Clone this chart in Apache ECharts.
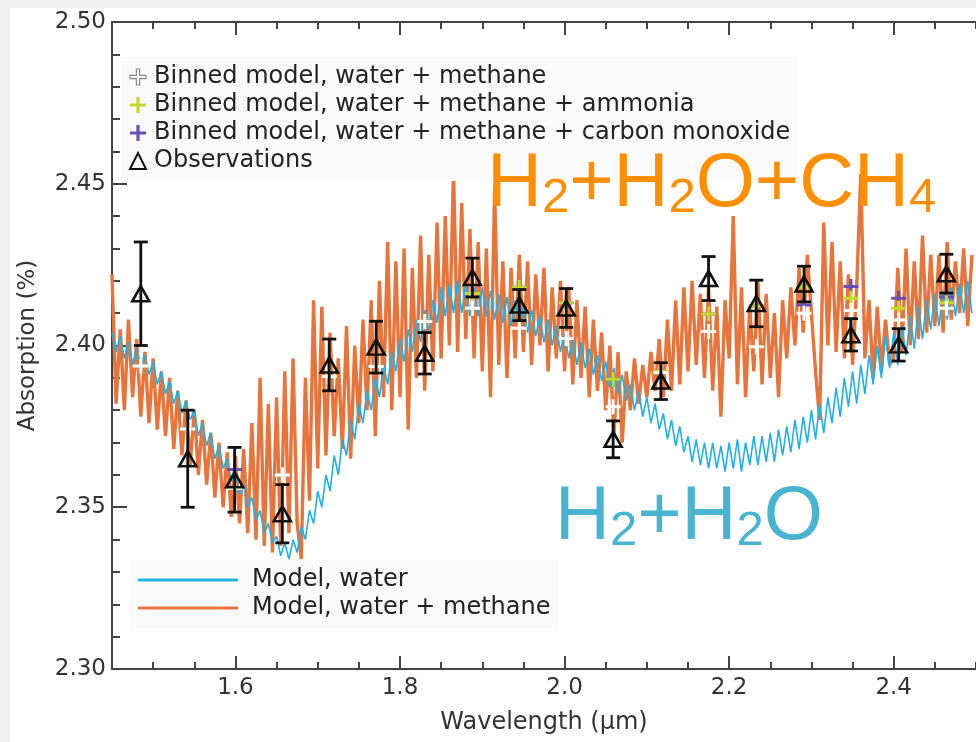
<!DOCTYPE html>
<html>
<head>
<meta charset="utf-8">
<script src="https://cdn.jsdelivr.net/npm/echarts@6/dist/echarts.min.js"></script>
<style>
html,body{margin:0;padding:0;background:#f0f0f0;}
#main{width:976px;height:742px;}
</style>
</head>
<body>
<div id="main"></div>
<script>
// spectrum sampled every 0.005 um from 1.45 um
var spectrumStart = 1.45;
var spectrumStep = 0.005;

// model, water (blue)
var waterModel = [
	2.404,2.398,2.403,2.396,2.401,2.394,2.399,2.393,2.397,2.391,
	2.395,2.388,2.392,2.385,2.389,2.382,2.386,2.379,2.383,2.377,
	2.380,2.372,2.376,2.369,2.373,2.365,2.369,2.362,2.365,2.358,
	2.361,2.354,2.357,2.350,2.353,2.346,2.349,2.342,2.345,2.339,
	2.341,2.335,2.339,2.334,2.340,2.336,2.344,2.340,2.349,2.345,
	2.355,2.350,2.360,2.355,2.366,2.360,2.371,2.366,2.377,2.371,
	2.382,2.376,2.386,2.380,2.390,2.384,2.394,2.388,2.398,2.392,
	2.402,2.395,2.405,2.398,2.408,2.401,2.411,2.404,2.414,2.407,
	2.418,2.409,2.419,2.410,2.420,2.410,2.419,2.409,2.418,2.409,
	2.418,2.409,2.417,2.408,2.416,2.407,2.415,2.406,2.414,2.405,
	2.412,2.404,2.411,2.403,2.409,2.401,2.408,2.400,2.406,2.398,
	2.404,2.396,2.402,2.394,2.401,2.393,2.399,2.391,2.397,2.389,
	2.395,2.387,2.393,2.385,2.391,2.383,2.388,2.380,2.386,2.378,
	2.384,2.376,2.382,2.374,2.379,2.371,2.377,2.369,2.375,2.367,
	2.372,2.364,2.371,2.363,2.370,2.362,2.370,2.362,2.369,2.361,
	2.370,2.362,2.371,2.361,2.370,2.363,2.372,2.363,2.372,2.364,
	2.373,2.364,2.374,2.366,2.375,2.367,2.377,2.368,2.378,2.370,
	2.380,2.371,2.382,2.373,2.384,2.376,2.387,2.378,2.390,2.381,
	2.392,2.382,2.394,2.385,2.397,2.388,2.400,2.390,2.403,2.393,
	2.404,2.394,2.406,2.397,2.409,2.399,2.412,2.402,2.414,2.405,
	2.416,2.406,2.417,2.408,2.418,2.409,2.419,2.410,2.420,2.410
];

// model, water + methane (orange)
var methaneModel = [
	2.422,2.382,2.405,2.380,2.408,2.384,2.402,2.378,2.398,2.376,
	2.396,2.374,2.392,2.372,2.390,2.368,2.386,2.366,2.383,2.363,
	2.380,2.360,2.377,2.357,2.373,2.353,2.370,2.350,2.367,2.347,
	2.366,2.345,2.368,2.342,2.376,2.340,2.390,2.338,2.382,2.336,
	2.384,2.338,2.392,2.342,2.396,2.345,2.334,2.390,2.352,2.414,
	2.362,2.412,2.366,2.404,2.372,2.396,2.368,2.406,2.365,2.400,
	2.376,2.408,2.380,2.414,2.372,2.420,2.384,2.432,2.380,2.426,
	2.384,2.430,2.374,2.424,2.390,2.434,2.386,2.428,2.392,2.438,
	2.396,2.440,2.400,2.454,2.398,2.444,2.402,2.436,2.396,2.432,
	2.392,2.430,2.384,2.448,2.394,2.426,2.390,2.424,2.396,2.428,
	2.398,2.426,2.394,2.422,2.400,2.424,2.392,2.418,2.396,2.420,
	2.392,2.418,2.388,2.414,2.390,2.412,2.384,2.408,2.386,2.404,
	2.380,2.400,2.372,2.398,2.370,2.392,2.380,2.396,2.382,2.394,
	2.384,2.398,2.386,2.402,2.384,2.408,2.386,2.414,2.388,2.418,
	2.392,2.420,2.394,2.416,2.390,2.418,2.386,2.412,2.378,2.414,
	2.396,2.440,2.388,2.418,2.384,2.412,2.392,2.420,2.388,2.416,
	2.390,2.410,2.384,2.414,2.396,2.418,2.400,2.424,2.404,2.428,
	2.410,2.392,2.377,2.438,2.400,2.432,2.398,2.426,2.396,2.422,
	2.394,2.418,2.453,2.396,2.414,2.390,2.412,2.392,2.408,2.394,
	2.396,2.424,2.398,2.430,2.400,2.426,2.402,2.434,2.404,2.428,
	2.406,2.428,2.404,2.432,2.408,2.426,2.410,2.430,2.406,2.428
];

// observations and binned models
var binWave = [1.485,1.542,1.599,1.657,1.714,1.771,1.830,1.888,1.945,2.002,2.059,2.117,2.175,2.233,2.291,2.348,2.406,2.464];
var obsValue = [2.416,2.365,2.3585,2.348,2.394,2.3995,2.3976,2.421,2.4125,2.4116,2.371,2.389,2.4207,2.413,2.419,2.4033,2.4002,2.4222];
var obsError = [0.016,0.015,0.010,0.009,0.008,0.008,0.0064,0.006,0.0048,0.006,0.0057,0.0057,0.0068,0.0072,0.0055,0.005,0.005,0.006];
var binMethane = [2.3937,2.3742,2.3559,2.360,2.3904,2.3935,2.4074,2.4115,2.4053,2.4022,2.3811,2.3916,2.4043,2.3996,2.410,2.4108,2.4079,2.4115];
var binAmmonia = [2.3937,2.3742,2.3559,2.360,2.3904,2.3935,2.4074,2.4161,2.418,2.4132,2.3896,2.392,2.4097,2.4122,2.418,2.4146,2.4115,2.4132];
var binCO = [2.3937,2.3742,2.3617,2.360,2.3904,2.3935,2.4074,2.4161,2.418,2.4132,2.3896,2.392,2.4097,2.4122,2.4125,2.4182,2.4146,2.415];

var xMajorTicks = [1.6,1.8,2.0,2.2,2.4];

var font = 'DejaVu Sans';
var axisColor = '#444';
var plusIcon = 'path://M6,0H9V6H15V9H9V15H6V9H0V6H6Z';
var lineIcon = 'path://M0,0H100V3H0Z';

function spectrumPairs(vals) {
	var out = [];
	for (var i = 0; i < vals.length; i++) {
		out.push([+(spectrumStart + i * spectrumStep).toFixed(3), vals[i]]);
	}
	return out;
}
function binPairs(vals) {
	var out = [];
	for (var i = 0; i < vals.length; i++) {
		out.push([binWave[i], vals[i]]);
	}
	return out;
}
var errData = [];
for (var i = 0; i < binWave.length; i++) {
	errData.push([binWave[i], obsValue[i] - obsError[i], obsValue[i] + obsError[i]]);
}

function renderErr(params, api) {
	var x = api.value(0);
	var top = api.coord([x, api.value(2)]);
	var bot = api.coord([x, api.value(1)]);
	var w = 7;
	var st = {stroke: '#111', lineWidth: 2.8};
	return {
		type: 'group',
		children: [
			{type: 'line', shape: {x1: top[0], y1: top[1], x2: bot[0], y2: bot[1]}, style: st},
			{type: 'line', shape: {x1: top[0] - w, y1: top[1], x2: top[0] + w, y2: top[1]}, style: st},
			{type: 'line', shape: {x1: bot[0] - w, y1: bot[1], x2: bot[0] + w, y2: bot[1]}, style: st}
		]
	};
}

var tickStyle = {color: axisColor, width: 2};
function xAxisDef(pos, major) {
	var ax = {
		type: 'value',
		position: pos,
		min: 1.45,
		max: 2.5,
		splitLine: {show: false},
		axisLine: {show: major, lineStyle: {color: axisColor, width: 2}},
		axisTick: {show: true, inside: true, length: major ? 13 : 7, lineStyle: tickStyle},
		axisLabel: {show: false}
	};
	if (major) {
		ax.axisTick.customValues = xMajorTicks;
		ax.axisLabel = {
			show: pos === 'bottom',
			customValues: xMajorTicks,
			formatter: function (v) { return v.toFixed(1); },
			fontFamily: font, fontSize: 23, color: '#333', margin: 8
		};
	} else {
		ax.interval = 0.05;
	}
	if (major && pos === 'bottom') {
		ax.name = 'Wavelength (\u00b5m)';
		ax.nameLocation = 'middle';
		ax.nameGap = 42;
		ax.nameTextStyle = {fontFamily: font, fontSize: 24, color: '#333'};
	}
	return ax;
}

var chart = echarts.init(document.getElementById('main'));
var option = {
	backgroundColor: '#f0f0f0',
	animation: false,
	grid: {left: 112, top: 22, width: 877, height: 647, containLabel: false},
	graphic: [
		{type: 'rect', left: 10, top: 8, shape: {width: 966, height: 734}, style: {fill: '#fff'}, z: -10},
		{
			type: 'text', left: 487, top: 147, z: 50,
			style: {
				text: '{a|H}{s|2}{a|+H}{s|2}{a|O+CH}{s|4}',
				rich: {
					a: {fontFamily: 'Liberation Sans', fontSize: 76, lineHeight: 76, verticalAlign: 'bottom', fill: '#ff8f00'},
					s: {fontFamily: 'Liberation Sans', fontSize: 49, lineHeight: 49, verticalAlign: 'bottom', fill: '#ff8f00'}
				}
			}
		},
		{
			type: 'text', left: 555, top: 480, z: 50,
			style: {
				text: '{a|H}{s|2}{a|+H}{s|2}{a|O}',
				rich: {
					a: {fontFamily: 'Liberation Sans', fontSize: 76, lineHeight: 76, verticalAlign: 'bottom', fill: '#48b4d2'},
					s: {fontFamily: 'Liberation Sans', fontSize: 49, lineHeight: 49, verticalAlign: 'bottom', fill: '#48b4d2'}
				}
			}
		}
	],
	legend: [
		{
			left: 121, top: 57, orient: 'vertical',
			padding: [8, 8, 8, 8], backgroundColor: '#fafafa',
			itemWidth: 16, itemHeight: 16, itemGap: 4,
			textStyle: {fontFamily: font, fontSize: 24, color: '#222', padding: [0, 0, 0, 3]},
			data: [
				{name: 'Binned model, water + methane', icon: plusIcon, itemStyle: {color: '#fff', borderColor: '#888', borderWidth: 1.2}},
				{name: 'Binned model, water + methane + ammonia', icon: plusIcon},
				{name: 'Binned model, water + methane + carbon monoxide', icon: plusIcon},
				{name: 'Observations', icon: 'triangle', itemStyle: {color: 'rgba(0,0,0,0)', borderColor: '#111', borderWidth: 2}}
			]
		},
		{
			left: 130, top: 560, orient: 'vertical',
			padding: [8, 8, 8, 8], backgroundColor: '#fafafa',
			itemWidth: 106, itemHeight: 3, itemGap: 4,
			textStyle: {fontFamily: font, fontSize: 24, color: '#222', padding: [0, 0, 0, 6]},
			data: [
				{name: 'Model, water', icon: lineIcon},
				{name: 'Model, water + methane', icon: lineIcon}
			]
		}
	],
	xAxis: [
		xAxisDef('bottom', true),
		xAxisDef('bottom', false),
		xAxisDef('top', true),
		xAxisDef('top', false)
	],
	yAxis: [
		{
			type: 'value',
			position: 'left',
			min: 2.30,
			max: 2.50,
			interval: 0.05,
			splitLine: {show: false},
			axisLine: {show: true, lineStyle: {color: axisColor, width: 2}},
			axisTick: {show: true, inside: true, length: 15, lineStyle: tickStyle},
			axisLabel: {
				formatter: function (v) { return v.toFixed(2); },
				fontFamily: font, fontSize: 23, color: '#333', margin: 6
			},
			name: 'Absorption (%)',
			nameLocation: 'middle',
			nameGap: 72,
			nameTextStyle: {fontFamily: font, fontSize: 23, color: '#333'}
		},
		{
			type: 'value',
			position: 'left',
			min: 2.30,
			max: 2.50,
			interval: 0.01,
			splitLine: {show: false},
			axisLine: {show: false},
			axisTick: {show: true, inside: true, length: 8, lineStyle: tickStyle},
			axisLabel: {show: false}
		}
	],
	series: [
		{
			name: 'Model, water + methane',
			type: 'line', xAxisIndex: 0, yAxisIndex: 0, z: 2,
			symbol: 'none', showSymbol: false,
			lineStyle: {color: '#e8743b', width: 3.4},
			itemStyle: {color: '#e8743b'},
			data: spectrumPairs(methaneModel)
		},
		{
			name: 'Model, water',
			type: 'line', xAxisIndex: 0, yAxisIndex: 0, z: 3,
			symbol: 'none', showSymbol: false,
			lineStyle: {color: '#1fb1e6', width: 1.6},
			itemStyle: {color: '#1fb1e6'},
			data: spectrumPairs(waterModel)
		},
		{
			name: 'Binned model, water + methane + carbon monoxide',
			type: 'scatter', xAxisIndex: 0, yAxisIndex: 0, z: 4,
			symbol: plusIcon, symbolSize: 15,
			itemStyle: {color: '#6a4fb3', opacity: 1},
			data: binPairs(binCO)
		},
		{
			name: 'Binned model, water + methane + ammonia',
			type: 'scatter', xAxisIndex: 0, yAxisIndex: 0, z: 5,
			symbol: plusIcon, symbolSize: 15,
			itemStyle: {color: '#c5d82e', opacity: 1},
			data: binPairs(binAmmonia)
		},
		{
			name: 'Binned model, water + methane',
			type: 'scatter', xAxisIndex: 0, yAxisIndex: 0, z: 6,
			symbol: plusIcon, symbolSize: 15,
			itemStyle: {color: '#ffffff', opacity: 1},
			data: binPairs(binMethane)
		},
		{
			type: 'custom', xAxisIndex: 0, yAxisIndex: 0, z: 7,
			renderItem: renderErr,
			data: errData
		},
		{
			name: 'Observations',
			type: 'scatter', xAxisIndex: 0, yAxisIndex: 0, z: 8,
			symbol: 'triangle', symbolSize: [17, 15],
			itemStyle: {color: 'rgba(0,0,0,0)', borderColor: '#111', borderWidth: 2.6, opacity: 1},
			data: binPairs(obsValue)
		}
	]
};
chart.setOption(option);
</script>
</body>
</html>
